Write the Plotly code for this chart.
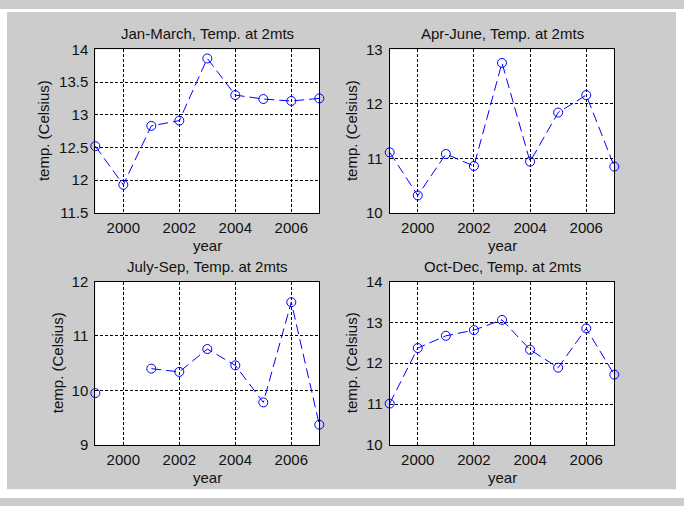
import plotly.graph_objects as go

W, H = 684, 506

years = [1999, 2000, 2001, 2002, 2003, 2004, 2005, 2006, 2007]
jan_mar = [12.52, 11.93, 12.83, 12.91, 13.86, 13.30, 13.24, 13.21, 13.25]
apr_jun = [11.11, 10.32, 11.08, 10.86, 12.75, 10.94, 11.84, 12.16, 10.85]
jul_sep = [9.95, None, 10.40, 10.34, 10.76, 10.46, 9.78, 11.62, 9.37]
oct_dec = [11.01, 12.37, 12.67, 12.81, 13.06, 12.33, 11.89, 12.85, 11.72]

titles = ["Jan-March, Temp. at 2mts", "Apr-June, Temp. at 2mts",
          "July-Sep, Temp. at 2mts", "Oct-Dec, Temp. at 2mts"]
series = [jan_mar, apr_jun, jul_sep, oct_dec]
y_ranges = [(11.5, 14), (10, 13), (9, 12), (10, 14)]
y_dticks = [0.5, 1, 1, 1]
x_ticks = [2000, 2002, 2004, 2006]

# pixel boxes of the four axes: (left, right, top, bottom)
boxes = [(95.3, 319.3, 41.7, 211.0), (389.7, 614.3, 41.7, 211.0),
         (95.3, 319.3, 282.0, 451.0), (389.7, 614.3, 282.0, 451.0)]
ylabel_x = [43, 351, 57, 351]
title_y = [25, 25, 266, 266]
xlabel_y = [245, 245, 485, 485]

FONT = "Liberation Sans, Arial, sans-serif"
TXT = "#111111"
fig = go.Figure()

for i in range(4):
    l, r, t, b = boxes[i]
    xa = "x" if i == 0 else f"x{i+1}"
    ya = "y" if i == 0 else f"y{i+1}"
    fig.add_trace(go.Scatter(
        x=years, y=series[i], xaxis=xa, yaxis=ya, mode="lines+markers",
        line=dict(color="#0000ff", width=1, dash="10px,5px"),
        marker=dict(symbol="circle-open", size=9, color="#0000ff", line=dict(width=1)),
        connectgaps=False, cliponaxis=False, showlegend=False))
    axx = dict(domain=[l / W, r / W], range=[1999, 2007], tickvals=x_ticks,
               showgrid=True, gridcolor="#000000", gridwidth=1, griddash="3px,2px",
               showline=True, mirror=True, linecolor="#000000", linewidth=1,
               zeroline=False, ticks="", ticklabelstandoff=1,
               tickfont=dict(family=FONT, size=15, color=TXT),
               anchor=ya)
    y0, y1 = y_ranges[i]
    axy = dict(domain=[1 - b / H, 1 - t / H], range=[y0, y1], dtick=y_dticks[i], tick0=y0,
               showgrid=True, gridcolor="#000000", gridwidth=1, griddash="3px,2px",
               showline=True, mirror=True, linecolor="#000000", linewidth=1,
               zeroline=False, ticks="", ticklabelstandoff=3,
               tickfont=dict(family=FONT, size=15, color=TXT),
               anchor=xa)
    fig.update_layout(**{("xaxis" if i == 0 else f"xaxis{i+1}"): axx,
                         ("yaxis" if i == 0 else f"yaxis{i+1}"): axy})
    cx = (l + r) / 2
    cy = (t + b) / 2
    fig.add_annotation(text=titles[i], x=cx / W, y=1 - title_y[i] / H, xref="paper", yref="paper",
                       xanchor="center", yanchor="middle", showarrow=False,
                       font=dict(family=FONT, size=15, color=TXT))
    fig.add_annotation(text="year", x=cx / W, y=1 - xlabel_y[i] / H, xref="paper", yref="paper",
                       xanchor="center", yanchor="middle", showarrow=False,
                       font=dict(family=FONT, size=15, color=TXT))
    fig.add_annotation(text="temp. (Celsius)", x=ylabel_x[i] / W, y=1 - cy / H, xref="paper", yref="paper",
                       xanchor="center", yanchor="middle", showarrow=False, textangle=-90,
                       font=dict(family=FONT, size=15, color=TXT))

# white borders around the grey figure area
for (x0, x1, y0, y1) in [(0, 7, 0, H), (676, W, 0, H), (0, W, 0, 3), (0, W, 497, H)]:
    fig.add_shape(type="rect", xref="paper", yref="paper",
                  x0=x0 / W, x1=x1 / W, y0=1 - y1 / H, y1=1 - y0 / H,
                  fillcolor="#ffffff", line=dict(width=0), layer="above")

fig.update_layout(width=W, height=H, margin=dict(l=0, r=0, t=0, b=0),
                  paper_bgcolor="#cccccc", plot_bgcolor="#ffffff",
                  font=dict(family=FONT, size=15, color=TXT))

fig.write_html("out.html", config={"displayModeBar": False, "staticPlot": True},
               post_script="document.body.style.margin='0px';document.body.style.padding='0px';"
                           "document.body.style.overflow='hidden';"
                           "document.documentElement.style.overflow='hidden';")
